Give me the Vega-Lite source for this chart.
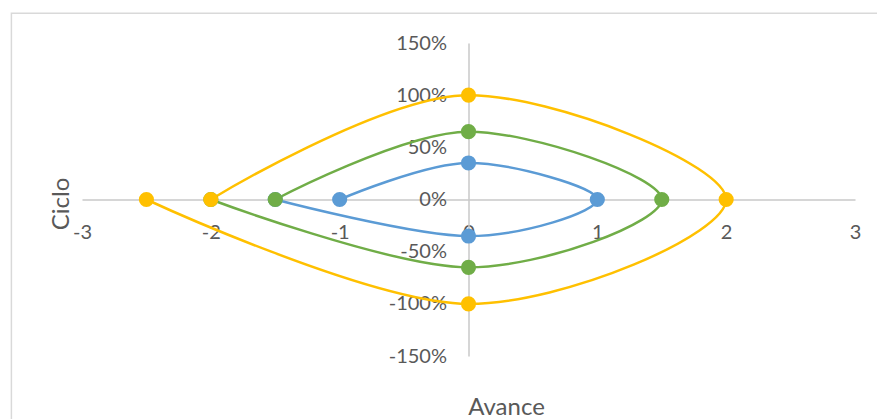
{
  "$schema": "https://vega.github.io/schema/vega-lite/v6.json",
  "width": 773,
  "height": 313,
  "autosize": {"type": "none"},
  "padding": {"left": 82, "top": 43, "right": 22, "bottom": 63},
  "background": "white",
  "config": {
    "view": {"stroke": null},
    "font": "Lato",
    "locale": {
      "number": {"decimal": ".", "thousands": ",", "grouping": [3], "currency": ["$", ""], "minus": "-"}
    }
  },
  "layer": [
    {
      "description": "chart area frame",
      "data": {"values": [{}]},
      "mark": {"type": "rect", "fill": null, "stroke": "#D9D9D9", "strokeWidth": 1.5, "clip": false},
      "encoding": {
        "x": {"datum": -3.548, "type": "quantitative"},
        "x2": {"datum": 3.6},
        "y": {"datum": 1.785, "type": "quantitative"},
        "y2": {"datum": -2.5}
      }
    },
    {
      "data": {
        "values": [
          {"serie": "Serie 1", "i": 1, "avance": -1, "ciclo": 0},
          {"serie": "Serie 1", "i": 2, "avance": 0, "ciclo": 0.35},
          {"serie": "Serie 1", "i": 3, "avance": 1, "ciclo": 0},
          {"serie": "Serie 1", "i": 4, "avance": 0, "ciclo": -0.35},
          {"serie": "Serie 1", "i": 5, "avance": -1.5, "ciclo": 0},
          {"serie": "Serie 2", "i": 1, "avance": -1.5, "ciclo": 0},
          {"serie": "Serie 2", "i": 2, "avance": 0, "ciclo": 0.65},
          {"serie": "Serie 2", "i": 3, "avance": 1.5, "ciclo": 0},
          {"serie": "Serie 2", "i": 4, "avance": 0, "ciclo": -0.65},
          {"serie": "Serie 2", "i": 5, "avance": -2, "ciclo": 0},
          {"serie": "Serie 3", "i": 1, "avance": -2, "ciclo": 0},
          {"serie": "Serie 3", "i": 2, "avance": 0, "ciclo": 1},
          {"serie": "Serie 3", "i": 3, "avance": 2, "ciclo": 0},
          {"serie": "Serie 3", "i": 4, "avance": 0, "ciclo": -1},
          {"serie": "Serie 3", "i": 5, "avance": -2.5, "ciclo": 0}
        ]
      },
      "encoding": {
        "x": {
          "field": "avance",
          "type": "quantitative",
          "scale": {"domain": [-3, 3], "nice": false, "zero": false},
          "axis": {
            "title": "Avance",
            "offset": -156.5,
            "values": [-3, -2, -1, 0, 1, 2, 3],
            "format": "d",
            "grid": false,
            "ticks": false,
            "tickSize": 0,
            "domainColor": "#C8C8C8",
            "domainWidth": 1.5,
            "labelFontSize": 20,
            "labelColor": "#595959",
            "labelPadding": 23,
            "labelFlush": false,
            "labelOverlap": false,
            "titleFontSize": 24,
            "titleFontWeight": "normal",
            "titleColor": "#595959",
            "titleX": 424,
            "titleY": 215,
            "titleAlign": "center",
            "titleBaseline": "alphabetic"
          }
        },
        "y": {
          "field": "ciclo",
          "type": "quantitative",
          "scale": {"domain": [-1.5, 1.5], "nice": false, "zero": false},
          "axis": {
            "title": "Ciclo",
            "offset": -386.5,
            "values": [-1.5, -1, -0.5, 0, 0.5, 1, 1.5],
            "format": ".0%",
            "grid": false,
            "ticks": false,
            "tickSize": 0,
            "domainColor": "#C8C8C8",
            "domainWidth": 1.5,
            "labelFontSize": 20,
            "labelColor": "#595959",
            "labelPadding": 22,
            "labelOverlap": false,
            "labelFlush": false,
            "titleFontSize": 24,
            "titleFontWeight": "normal",
            "titleColor": "#595959",
            "titleAngle": -90,
            "titleX": -400,
            "titleY": 160.5,
            "titleAlign": "center",
            "titleBaseline": "alphabetic"
          }
        },
        "color": {
          "field": "serie",
          "type": "nominal",
          "scale": {"domain": ["Serie 1", "Serie 2", "Serie 3"], "range": ["#5B9BD5", "#70AD47", "#FFC000"]},
          "legend": null
        }
      },
      "layer": [
        {
          "mark": {"type": "line", "interpolate": "cardinal", "strokeWidth": 2.5},
          "encoding": {"order": {"field": "i", "type": "quantitative"}}
        },
        {
          "mark": {"type": "point", "shape": "circle", "filled": true, "opacity": 1, "size": 230}
        }
      ]
    }
  ]
}
